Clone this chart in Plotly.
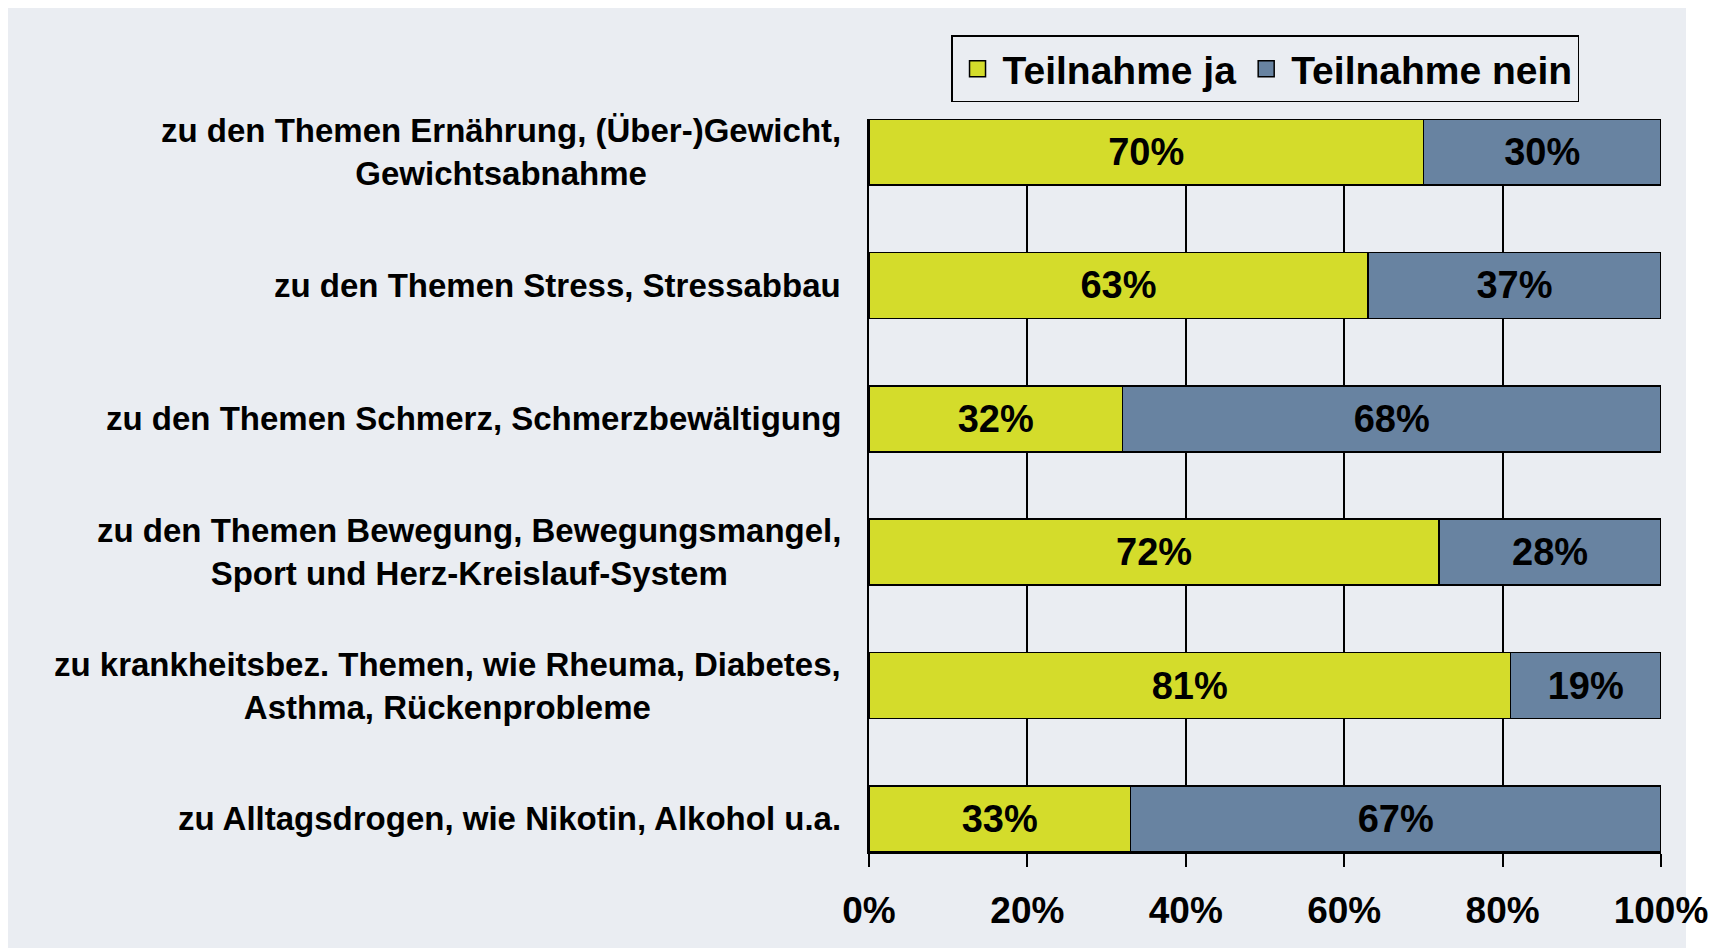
import plotly.graph_objects as go

BG = "#EAEDF2"
YELLOW = "#D4DC2B"
BLUE = "#6883A1"
INK = "#000000"
FONT = "Liberation Sans, Arial, sans-serif"

categories = [
    "zu den Themen Ernährung, (Über-)Gewicht,<br>Gewichtsabnahme",
    "zu den Themen Stress, Stressabbau",
    "zu den Themen Schmerz, Schmerzbewältigung",
    "zu den Themen Bewegung, Bewegungsmangel,<br>Sport und Herz-Kreislauf-System",
    "zu krankheitsbez. Themen, wie Rheuma, Diabetes,<br>Asthma, Rückenprobleme",
    "zu Alltagsdrogen, wie Nikotin, Alkohol u.a.",
]
ja = [70, 63, 32, 72, 81, 33]
nein = [30, 37, 68, 28, 19, 67]
series_names = ["Teilnahme ja", "Teilnahme nein"]
x_ticks = [0, 20, 40, 60, 80, 100]

BAR_W = 0.495
n = len(categories)

fig = go.Figure()
for name, vals, col in [(series_names[0], ja, YELLOW), (series_names[1], nein, BLUE)]:
    fig.add_trace(go.Bar(
        x=vals,
        y=categories,
        orientation="h",
        name=name,
        width=BAR_W,
        marker=dict(color=col, line=dict(color=INK, width=1.5)),
        text=[f"{v}%" for v in vals],
        textposition="inside",
        insidetextanchor="middle",
        constraintext="none",
        textfont=dict(family=FONT, size=38, color=INK, weight="bold"),
        showlegend=False,
    ))
    # legend-only marker with a larger outlined square
    fig.add_trace(go.Scatter(
        x=[None], y=[None], mode="markers", name=name,
        marker=dict(symbol="square", size=16, color=col, line=dict(color=INK, width=1.5)),
    ))

# category labels, centred lines like the original
for cat in categories:
    fig.add_annotation(
        x=0, xref="paper", y=cat, yref="y",
        xanchor="right", xshift=-26, align="center",
        text=cat, showarrow=False,
        font=dict(family=FONT, size=33, color=INK, weight="bold"),
    )

# grey panel behind everything
fig.add_shape(type="rect", xref="paper", yref="paper",
              x0=-1.088, x1=1.0316, y0=-0.131, y1=1.1555,
              fillcolor=BG, line=dict(width=0), layer="below")

edge_ticks = []
for i in range(n):
    edge_ticks += [i - BAR_W / 2, i + BAR_W / 2]

fig.update_layout(
    barmode="stack",
    width=1722, height=948,
    paper_bgcolor="white",
    plot_bgcolor="rgba(0,0,0,0)",
    font=dict(family=FONT, color=INK),
    margin=dict(l=861, r=69, t=111, b=104, autoexpand=False),
    legend=dict(
        orientation="h", x=0.8965, xanchor="right", y=1.114, yanchor="top",
        bgcolor=BG, bordercolor=INK, borderwidth=1.5,
        font=dict(family=FONT, size=39, color=INK, weight="bold"),
        itemwidth=40, traceorder="normal",
    ),
    xaxis=dict(
        range=[0, 100], tickvals=x_ticks, ticktext=[f"{v}%" for v in x_ticks],
        showgrid=True, gridcolor=INK, gridwidth=1.5,
        showline=True, linecolor=INK, linewidth=1.5,
        ticks="outside", ticklen=13, tickwidth=1.5, tickcolor=INK,
        ticklabelstandoff=12,
        tickfont=dict(family=FONT, size=37, color=INK, weight="bold"),
        zeroline=False, fixedrange=True,
    ),
    yaxis=dict(
        categoryorder="array", categoryarray=categories,
        range=[n - 1 + BAR_W / 2, -BAR_W / 2],
        showticklabels=False, ticks="", showgrid=False,
        showline=True, linecolor=INK, linewidth=1.5, zeroline=False,
    ),
    yaxis2=dict(
        overlaying="y", side="left",
        range=[n - 1 + BAR_W / 2, -BAR_W / 2],
        tickvals=edge_ticks, ticks="outside", ticklen=9, tickwidth=1.5, tickcolor=INK,
        showticklabels=False, showgrid=False, showline=False, zeroline=False,
    ),
)

fig.write_html("out.html")
